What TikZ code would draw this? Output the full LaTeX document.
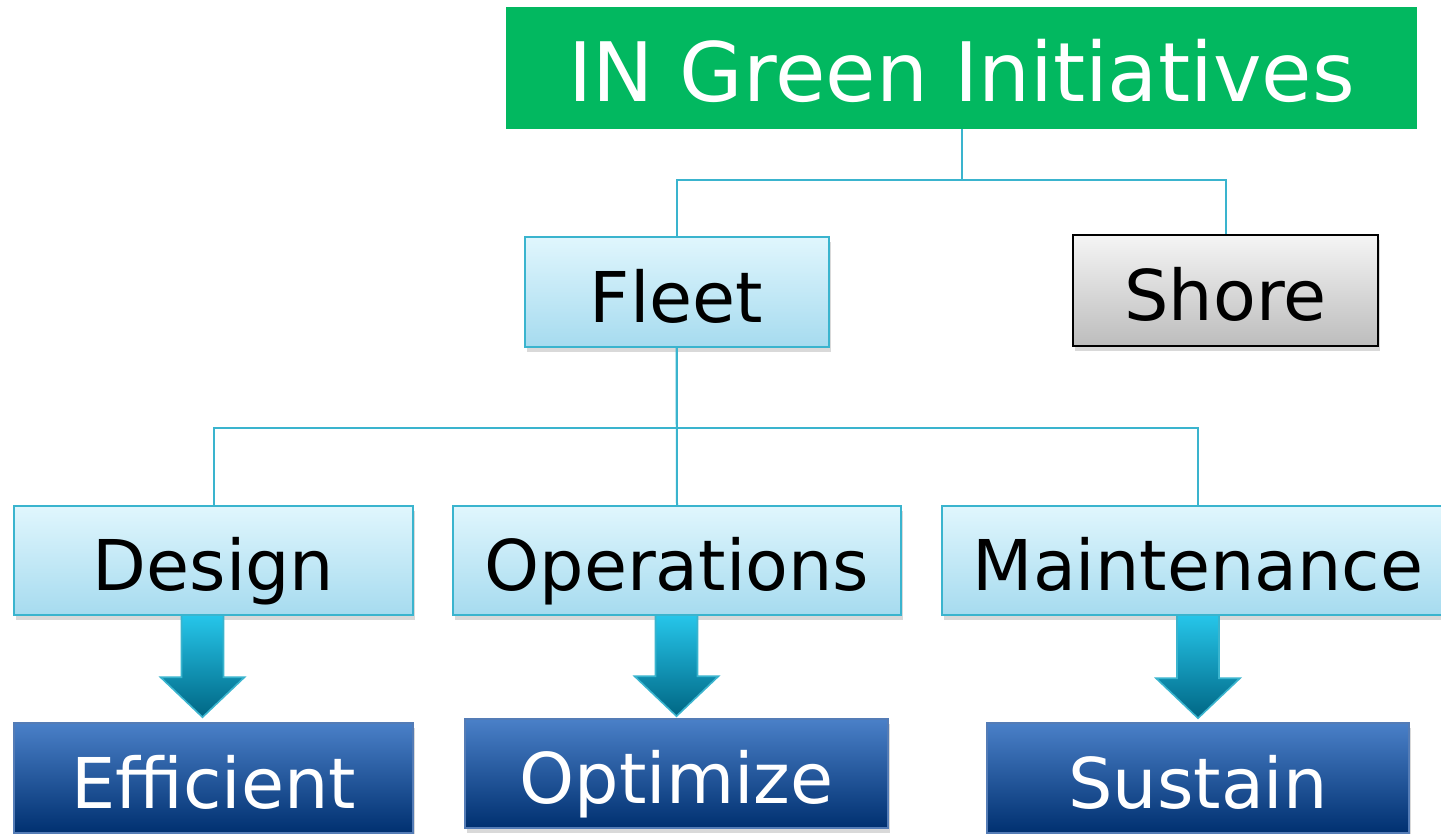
\documentclass[tikz,border=0pt]{standalone}
\usepackage{fontspec}
\setmainfont{DejaVu Sans}
\usetikzlibrary{calc,shadows,positioning}

\definecolor{leafgreen}{RGB}{2,184,96}
\definecolor{paletop}{RGB}{224,246,253}
\definecolor{palebot}{RGB}{166,219,239}
\definecolor{paleline}{RGB}{58,180,206}
\definecolor{navytop}{RGB}{74,128,200}
\definecolor{navybot}{RGB}{0,48,112}
\definecolor{navyline}{RGB}{84,124,182}
\definecolor{tealtop}{RGB}{38,198,234}
\definecolor{tealbot}{RGB}{0,102,132}

\begin{document}
\begin{tikzpicture}[x=0.5pt, y=-0.5pt,
  box/.style={rectangle, inner sep=0pt, text height=30pt, text depth=0pt,
    font=\fontsize{35}{42}\selectfont, minimum height=54.5pt},
  boxshadow/.style={drop shadow={shadow xshift=1pt, shadow yshift=-2.5pt, opacity=.3}},
  topbox/.style={box, fill=leafgreen, text=white, text height=34pt, font=\fontsize{41}{48}\selectfont},
  branch/.style={box, boxshadow, draw=paleline, line width=1pt, top color=paletop, bottom color=palebot},
  greybox/.style={box, boxshadow, draw=black, line width=1pt, top color=gray!8, bottom color=gray!52},
  goal/.style={box, boxshadow, draw=navyline, line width=.8pt, top color=navytop, bottom color=navybot, text=white},
  link/.style={draw=paleline, line width=1pt},
  downarrow/.style={draw=paleline, line width=.8pt, top color=tealtop, bottom color=tealbot}
]
  \useasboundingbox (0,0) rectangle (1441,834);
  \clip (0,0) rectangle (1441,834);

  % nodes
  \node[topbox, minimum width=455.5pt, minimum height=61pt] (title) at (961.5,68) {IN Green Initiatives};
  \node[branch, minimum width=152pt, minimum height=55pt] (fleet) at (676.5,292) {Fleet};
  \node[greybox, minimum width=152.5pt, minimum height=55.5pt] (shore) at (1225.5,290.5) {Shore};

  \node[branch, minimum width=199.5pt] (design) at (213.5,560.5) {Design};
  \node[branch, minimum width=224pt] (operations) at (677,560.5) {Operations};
  \node[branch, minimum width=256pt] (maintenance) at (1198,560.5) {Maintenance};

  \node[goal, minimum width=199.5pt, minimum height=55pt] (efficient) at (213.5,778) {Efficient};
  \node[goal, minimum width=211.5pt] (optimize) at (676.5,773.5) {Optimize};
  \node[goal, minimum width=211pt, minimum height=55pt] (sustain) at (1198,778) {Sustain};

  % tree lines
  \draw[link] (title.south) -- ++(0,51) -| (fleet.north);
  \draw[link] (title.south) -- ++(0,51) -| (shore.north);
  \draw[link] (fleet.south) -- ++(0,80) -| (design.north);
  \draw[link] (fleet.south) -- (operations.north);
  \draw[link] (fleet.south) -- ++(0,80) -| (maintenance.north);

  % block arrows
  \foreach \from/\to/\dx/\gap in {design/efficient/-11/-5, operations/optimize/0/-2, maintenance/sustain/0/-4} {
    \coordinate (s) at ($(\from.south -| \to.north)+(\dx,-1)$);
    \coordinate (t) at ($(\to.north)+(\dx,\gap)$);
    \path[downarrow] ($(s)+(-21,0)$) -- ($(s)+(21,0)$) -- ($(t)+(21,-40)$) -- ($(t)+(42,-40)$)
      -- (t) -- ($(t)+(-42,-40)$) -- ($(t)+(-21,-40)$) -- cycle;
  }
\end{tikzpicture}
\end{document}
